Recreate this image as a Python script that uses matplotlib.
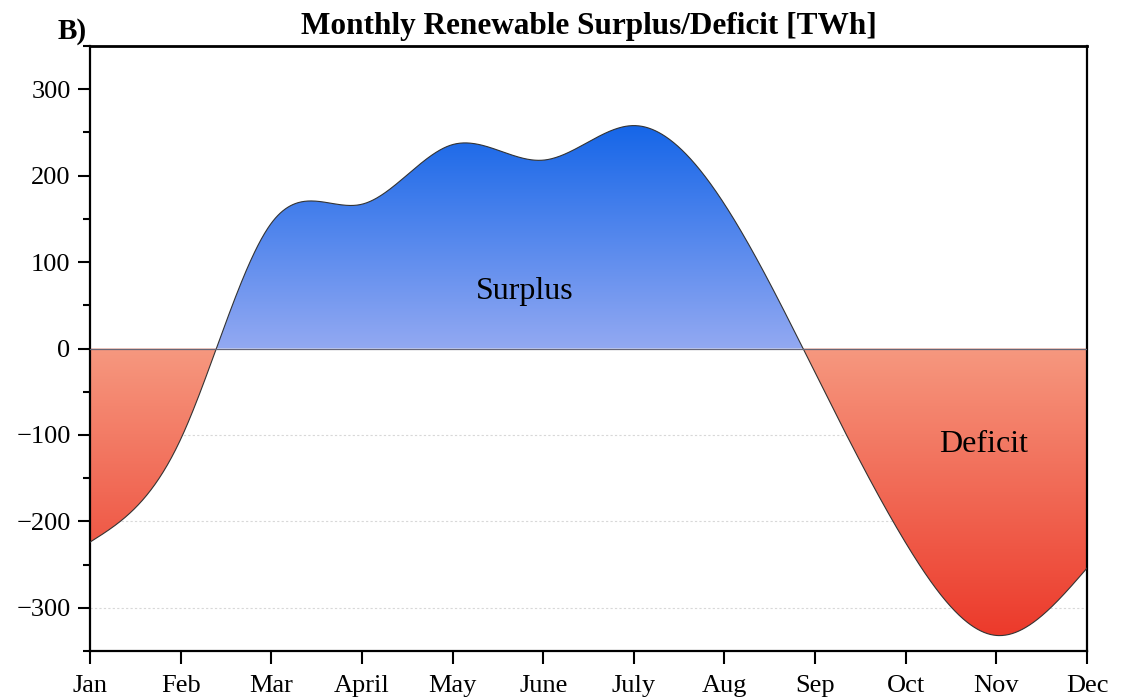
import matplotlib
matplotlib.use("Agg")
import matplotlib.pyplot as plt
from matplotlib.colors import LinearSegmentedColormap
from matplotlib.patches import PathPatch
from matplotlib.path import Path
import numpy as np

plt.rcParams['font.family'] = ['Liberation Serif', 'DejaVu Serif']

months = ["Jan", "Feb", "Mar", "April", "May", "June", "July", "Aug", "Sep", "Oct", "Nov", "Dec"]
balance = [-224, -105, 145, 167, 236, 218, 258, 167, -28, -225, -332, -254]


def natural_spline(x, y, n=1200):
    x = np.asarray(x, float)
    y = np.asarray(y, float)
    m = len(x)
    h = np.diff(x)
    A = np.zeros((m, m))
    b = np.zeros(m)
    A[0, 0] = A[-1, -1] = 1
    for i in range(1, m - 1):
        A[i, i - 1] = h[i - 1]
        A[i, i] = 2 * (h[i - 1] + h[i])
        A[i, i + 1] = h[i]
        b[i] = 6 * ((y[i + 1] - y[i]) / h[i] - (y[i] - y[i - 1]) / h[i - 1])
    M = np.linalg.solve(A, b)
    xs = np.linspace(x[0], x[-1], n)
    idx = np.clip(np.searchsorted(x, xs) - 1, 0, m - 2)
    x0, x1 = x[idx], x[idx + 1]
    hh = x1 - x0
    t0, t1 = x1 - xs, xs - x0
    ys = (M[idx] * t0 ** 3 / (6 * hh) + M[idx + 1] * t1 ** 3 / (6 * hh)
          + (y[idx] / hh - M[idx] * hh / 6) * t0
          + (y[idx + 1] / hh - M[idx + 1] * hh / 6) * t1)
    return xs, ys


xpos = np.arange(len(months))
xs, ys = natural_spline(xpos, balance)

fig = plt.figure(figsize=(11.28, 6.98), dpi=100)
ax = fig.add_axes([0.0798, 0.0673, 0.8839, 0.8667])

blue_cmap = LinearSegmentedColormap.from_list("b", ["#93a9f2", "#1666e8"])
red_cmap = LinearSegmentedColormap.from_list("r", ["#f6987f", "#ec3a2b"])

# gradient fills clipped to the areas above / below zero
pos = np.maximum(ys, 0)
neg = np.minimum(ys, 0)
for part, cmap, top in [(pos, blue_cmap, max(balance)), (neg, red_cmap, min(balance))]:
    verts = np.vstack([np.column_stack([xs, part]),
                       [[xs[-1], 0], [xs[0], 0], [xs[0], part[0]]]])
    codes = [Path.MOVETO] + [Path.LINETO] * (len(verts) - 2) + [Path.CLOSEPOLY]
    path = Path(verts, codes)
    patch = PathPatch(path, facecolor='none', edgecolor='none')
    ax.add_patch(patch)
    grad = np.linspace(0, 1, 256).reshape(-1, 1)
    lo, hi = (0, top) if top > 0 else (top, 0)
    if top < 0:
        grad = grad[::-1]
    im = ax.imshow(grad, cmap=cmap, aspect='auto', origin='lower',
                   extent=[xs[0], xs[-1], lo, hi], zorder=1)
    im.set_clip_path(patch)

ax.plot(xs, ys, color='#333333', lw=0.8, zorder=3)
ax.axhline(0, color='#666677', lw=0.9, zorder=3)
for g in [-100, -200, -300]:
    ax.axhline(g, color='#d8d8d8', lw=0.8, ls=(0, (2, 2)), zorder=0)

ax.set_xlim(0, 11)
ax.set_ylim(-350, 350)
ax.set_xticks(xpos)
ax.set_xticklabels(months)
ax.set_yticks([-300, -200, -100, 0, 100, 200, 300])
ax.set_yticks(np.arange(-350, 351, 50), minor=True)
ax.tick_params(axis='both', which='major', direction='out', length=9, width=1.5,
               labelsize=19, top=False, right=False)
ax.tick_params(axis='x', which='major', pad=8)
ax.tick_params(axis='y', which='major', pad=5)
ax.tick_params(axis='y', which='minor', direction='out', length=5, width=1.5)
ax.tick_params(axis='x', which='minor', bottom=False)
for s in ax.spines.values():
    s.set_linewidth(1.6)
ax.spines['top'].set_linewidth(2)

ax.text(4.8, 66, "Surplus", fontsize=23, ha='center', va='center', zorder=4)
ax.text(9.86, -111, "Deficit", fontsize=23, ha='center', va='center', zorder=4)

ax.set_title("Monthly Renewable Surplus/Deficit [TWh]", fontsize=22.5, fontweight='bold', pad=9)
fig.text(0.0514, 0.955, "B)", fontsize=21, fontweight='bold', ha='left', va='center')

fig.savefig("out.png", dpi=100)
